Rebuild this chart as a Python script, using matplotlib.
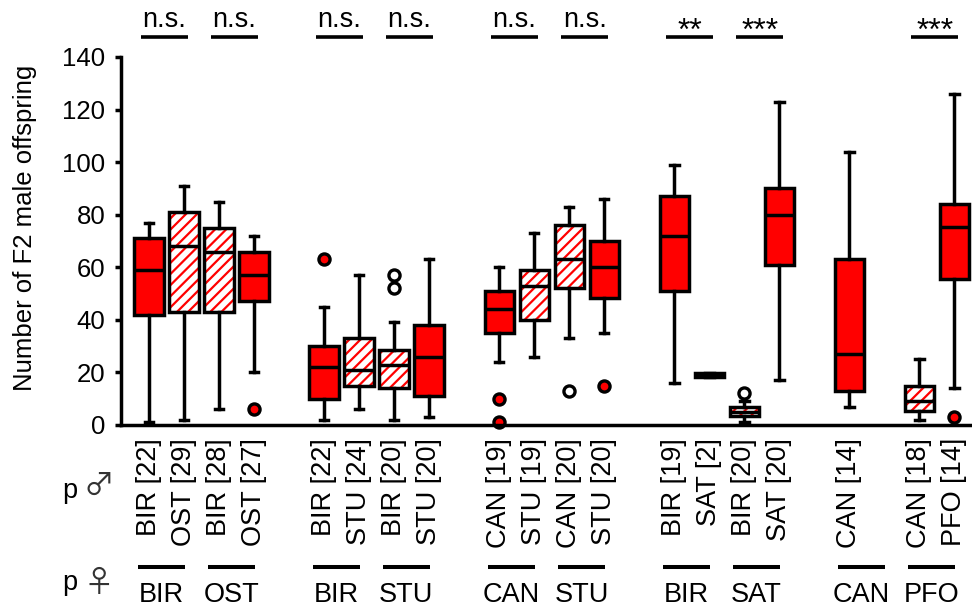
import matplotlib
matplotlib.use('Agg')
import matplotlib.pyplot as plt
import matplotlib.transforms as mtransforms
from matplotlib.patches import PathPatch

plt.rcParams['font.family'] = ['Liberation Sans', 'DejaVu Sans']
plt.rcParams['hatch.linewidth'] = 1.6

# maternal (female) population of each cross pair, with its paternal (male) populations
female_pops = ['BIR', 'OST', 'BIR', 'STU', 'CAN', 'STU', 'BIR', 'SAT', 'CAN', 'PFO']
male_pops = [['BIR', 'OST'], ['BIR', 'OST'], ['BIR', 'STU'], ['BIR', 'STU'],
             ['CAN', 'STU'], ['CAN', 'STU'], ['BIR', 'SAT'], ['BIR', 'SAT'],
             ['CAN'], ['CAN', 'PFO']]
n_sizes = [[22, 29], [28, 27], [22, 24], [20, 20], [19, 19], [20, 20],
           [19, 2], [20, 20], [14], [18, 14]]
signif = ['n.s.', 'n.s.', 'n.s.', 'n.s.', 'n.s.', 'n.s.', '**', '***', '', '***']

# box statistics in plotting order (number of F2 male offspring)
whislo = [1, 2, 6, 20, 2, 6, 2, 3, 24, 26, 33, 35, 16, 18.2, 1, 17, 7, 2, 14]
q1 = [42, 43, 43, 47, 10, 15, 14, 11, 35, 40, 52, 48.5, 51, 18.2, 3.5, 61, 13, 5.4, 55.5]
med = [59, 68, 66, 57, 22, 21, 23, 26, 44, 53, 63, 60, 72, 19, 5, 80, 27, 9.2, 75.5]
q3 = [71, 81, 75, 66, 30, 33, 28.5, 38, 51, 59, 76, 70, 87, 19.8, 7, 90, 63, 14.8, 84]
whishi = [77, 91, 85, 72, 45, 57, 39, 63, 60, 73, 83, 86, 99, 19.8, 9, 123, 104, 25, 126]
fliers = [[], [], [], [6], [63], [], [52, 57], [], [10, 1], [], [13], [15],
          [], [], [12], [], [], [], [3]]

LW = 2.5

# work out box positions: 5 blocks, each with two female pairs
positions, labels, hatched, pair_centers = [], [], [], []
for f, (fem, males, ns) in enumerate(zip(female_pops, male_pops, n_sizes)):
    base = (f // 2) * 5 + (f % 2) * 2
    pair_centers.append(base + 0.5)
    for m, (mal, n) in enumerate(zip(males, ns)):
        positions.append(base + m)
        labels.append(f'{mal} [{n}]')
        hatched.append(mal != fem)

stats = [dict(whislo=a, q1=b, med=c, q3=d, whishi=e, fliers=fl)
         for a, b, c, d, e, fl in zip(whislo, q1, med, q3, whishi, fliers)]

fig = plt.figure(figsize=(9.72, 6.07), dpi=100)
ax = fig.add_axes([121 / 972, 1 - 425 / 607, 1 - 121 / 972, 368 / 607])

bp = ax.bxp(stats, positions=positions, widths=0.84, capwidths=0.24,
            patch_artist=True, manage_ticks=False,
            boxprops=dict(facecolor='red', edgecolor='black', linewidth=LW),
            whiskerprops=dict(color='black', linewidth=LW),
            capprops=dict(color='black', linewidth=LW),
            medianprops=dict(color='black', linewidth=LW),
            flierprops=dict(marker='o', markerfacecolor='red', markeredgecolor='black',
                            markersize=8, markeredgewidth=2.4))

for key in bp:
    for art in bp[key]:
        art.set_clip_on(False)

for box, h, fl in zip(bp['boxes'], hatched, bp['fliers']):
    if h:
        box.set_facecolor('white')
        box.set_edgecolor('red')
        box.set_hatch('///')
        box.set_linewidth(0)
        outline = PathPatch(box.get_path(), facecolor='none', edgecolor='black',
                            lw=LW, zorder=box.get_zorder() + 0.05, clip_on=False)
        ax.add_patch(outline)
        fl.set_markerfacecolor('white')

ax.set_xlim(-0.8, 23.5)
ax.set_ylim(0, 140)
ax.set_yticks(range(0, 141, 20))
ax.tick_params(axis='y', direction='out', length=4.3, width=LW, labelsize=18.5, pad=7)
ax.tick_params(axis='x', bottom=False, labelbottom=False)
for side in ['top', 'right']:
    ax.spines[side].set_visible(False)
for side in ['left', 'bottom']:
    ax.spines[side].set_linewidth(LW)

fig.text(25 / 972, 1 - 228 / 607, 'Number of F2 male offspring', rotation=90,
         ha='center', va='center', fontsize=18.5)

trans = mtransforms.blended_transform_factory(ax.transData, ax.transAxes)

# paternal labels
for pos, lab in zip(positions, labels):
    ax.text(pos, -0.035, lab, transform=trans, rotation=90, ha='center', va='top',
            fontsize=19.5)

# maternal labels and significance marks
for c, fem, sig in zip(pair_centers, female_pops, signif):
    cb = c - 0.15
    ax.plot([cb - 0.67, cb + 0.67], [-0.386, -0.386], transform=trans, color='black',
            lw=2.9, clip_on=False, solid_capstyle='butt')
    ax.text(cb, -0.481, fem, transform=trans, ha='center', va='baseline', fontsize=19.5)
    if sig:
        ct = c - 0.06
        ax.plot([ct - 0.67, ct + 0.67], [1.0543, 1.0543], transform=trans, color='black',
                lw=2.6, clip_on=False, solid_capstyle='butt')
        if sig == 'n.s.':
            ax.text(ct, 1.0815, sig, transform=trans, ha='center', va='baseline',
                    fontsize=19.5)
        else:
            ax.text(ct, 1.0475, sig, transform=trans, ha='center', va='baseline',
                    fontsize=23)

fig.text(62 / 972, 1 - 497.5 / 607, 'p', ha='left', va='baseline', fontsize=19.5)
fig.text(62 / 972, 1 - 590 / 607, 'p', ha='left', va='baseline', fontsize=19.5)
fig.text(99 / 972, 1 - 486 / 607, '\u2642', ha='center', va='center', fontsize=22,
         color='#333333', family=['Noto Sans CJK JP', 'DejaVu Sans'])
fig.text(99 / 972, 1 - 583 / 607, '\u2640', ha='center', va='center', fontsize=22,
         color='#333333', family=['Noto Sans CJK JP', 'DejaVu Sans'])

fig.savefig('out.png', dpi=100)
